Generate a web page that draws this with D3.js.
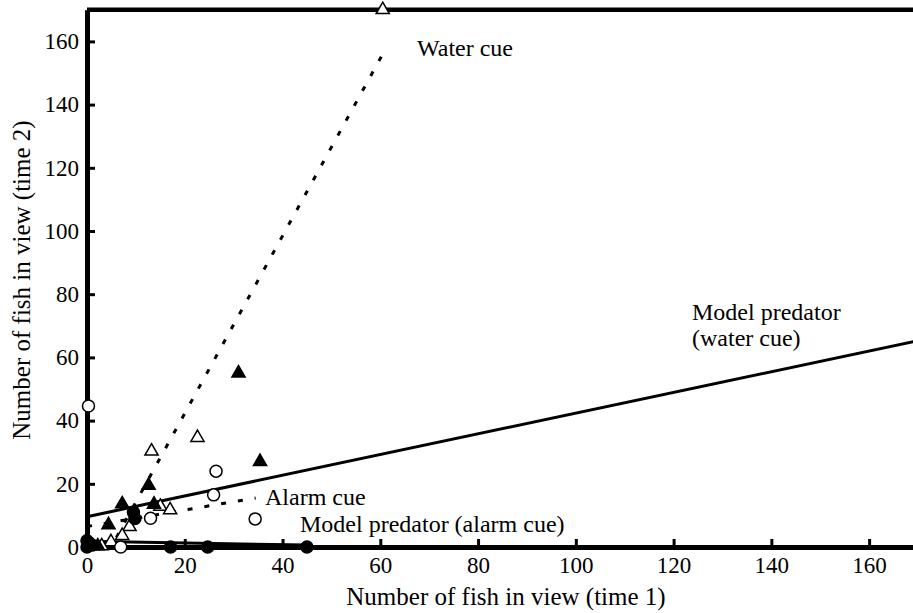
<!DOCTYPE html>

<head>
<meta charset="utf-8">
<style>

body {
  margin: 0;
  background: #fff;
}

svg text {
  font-family: "Liberation Serif", "Times New Roman", serif;
  fill: #000;
}

.axis text {
  font-size: 23px;
}

.axis path,
.axis line {
  stroke: #000;
}

.axis path {
  stroke-width: 5px;
}

.axis line {
  stroke-width: 3px;
}

.frame {
  stroke: #000;
  stroke-width: 4.5px;
}

.fit {
  fill: none;
  stroke: #000;
  stroke-width: 3px;
}

.dotted {
  stroke-dasharray: 5,12;
}

.label {
  font-size: 24px;
}

.title {
  font-size: 25px;
}

</style>
<title>Fish in view</title>
</head>
<body>
<script src="https://cdn.jsdelivr.net/npm/d3@7/dist/d3.min.js"></script>
<script>

var width = 913,
    height = 613;
var serif = "'Liberation Serif', 'Times New Roman', serif";

// points: [time 1, time 2]
var waterCue = [[60.5, 170], [13.2, 30.3], [22.6, 34.6], [15, 12.8], [17, 11.7],
                [8.7, 6.4], [7.2, 3.6], [4.9, 1.6], [3, 0.3]];
var alarmCue = [[0.3, 44.6], [26.4, 24], [25.9, 16.5], [34.4, 8.9], [13, 9.1], [6.9, 0]];
var predatorWater = [[31, 55], [35.4, 27], [12.6, 19.5], [7.2, 13.6], [13.7, 13.5],
                     [4.4, 7], [1.2, 0.3], [2.2, 0.3]];
var predatorAlarm = [[9.5, 11], [9.8, 9], [17.1, 0], [24.7, 0], [45, 0],
                     [0, 0], [0.3, 1.3], [1, 0.6], [0, 2]];

// fitted lines, end points
var waterFit = [[6, 3], [60.5, 156]];
var alarmFit = [[0, 6.5], [34.5, 15.5]];
var predatorWaterFit = [[0, 9.6], [170, 65.3]];
var predatorAlarmFit = [[0, 1.8], [45, 0.6]];

var xTicks = [0, 20, 40, 60, 80, 100, 120, 140, 160];
var yTicks = [0, 20, 40, 60, 80, 100, 120, 140, 160];

var x = d3.scaleLinear().domain([0, 170]).range([87, 918]);
var y = d3.scaleLinear().domain([0, 170]).range([547, 9.8]);

var svg = d3.select("body").append("svg")
    .attr("width", width)
    .attr("height", height)
    .attr("font-family", serif);

// top frame
svg.append("line")
    .attr("class", "frame")
    .attr("x1", x(0)).attr("x2", width)
    .attr("y1", y(170)).attr("y2", y(170));

svg.append("g")
    .attr("class", "axis")
    .attr("transform", "translate(0," + y(0) + ")")
    .call(d3.axisBottom(x).tickValues(xTicks).tickFormat(d3.format("d"))
      .tickSizeInner(-8).tickSizeOuter(0).tickPadding(10));

svg.append("g")
    .attr("class", "axis")
    .attr("transform", "translate(" + x(0) + ",0)")
    .call(d3.axisLeft(y).tickValues(yTicks).tickFormat(d3.format("d"))
      .tickSizeInner(-8).tickSizeOuter(0).tickPadding(8));

svg.selectAll(".axis").attr("font-family", serif).attr("font-size", null);

var line = d3.line()
    .x(function(d) { return x(d[0]); })
    .y(function(d) { return y(d[1]); });

svg.append("path").datum(predatorWaterFit).attr("class", "fit").attr("d", line);
svg.append("path").datum(predatorAlarmFit).attr("class", "fit").attr("d", line);
svg.append("path").datum(waterFit).attr("class", "fit dotted").attr("d", line);
svg.append("path").datum(alarmFit).attr("class", "fit dotted").attr("d", line);

var tri = d3.symbol().type(d3.symbolTriangle).size(75);

function drawTriangles(data, fill) {
  svg.append("g").selectAll("path")
      .data(data)
    .enter().append("path")
      .attr("d", tri)
      .attr("transform", function(d) { return "translate(" + x(d[0]) + "," + y(d[1]) + ")"; })
      .style("fill", fill)
      .style("stroke", "#000")
      .style("stroke-width", 1.5);
}

function drawCircles(data, fill) {
  svg.append("g").selectAll("circle")
      .data(data)
    .enter().append("circle")
      .attr("cx", function(d) { return x(d[0]); })
      .attr("cy", function(d) { return y(d[1]); })
      .attr("r", 6)
      .style("fill", fill)
      .style("stroke", "#000")
      .style("stroke-width", 1.5);
}

drawTriangles(waterCue, "#fff");
drawCircles(alarmCue, "#fff");
drawTriangles(predatorWater, "#000");
drawCircles(predatorAlarm, "#000");

// line labels
svg.append("text").attr("class", "label").attr("x", 417).attr("y", 56).text("Water cue");
svg.append("text").attr("class", "label").attr("x", 265).attr("y", 505).text("Alarm cue");
svg.append("text").attr("class", "label").attr("x", 692).attr("y", 320).text("Model predator");
svg.append("text").attr("class", "label").attr("x", 692).attr("y", 346).text("(water cue)");
svg.append("text").attr("class", "label").attr("x", 300).attr("y", 532).text("Model predator (alarm cue)");

// axis titles
svg.append("text")
    .attr("class", "title")
    .attr("x", 506).attr("y", 605)
    .style("text-anchor", "middle")
    .text("Number of fish in view (time 1)");

svg.append("text")
    .attr("class", "title")
    .attr("transform", "translate(30,280)rotate(-90)")
    .style("text-anchor", "middle")
    .text("Number of fish in view (time 2)");

</script>
